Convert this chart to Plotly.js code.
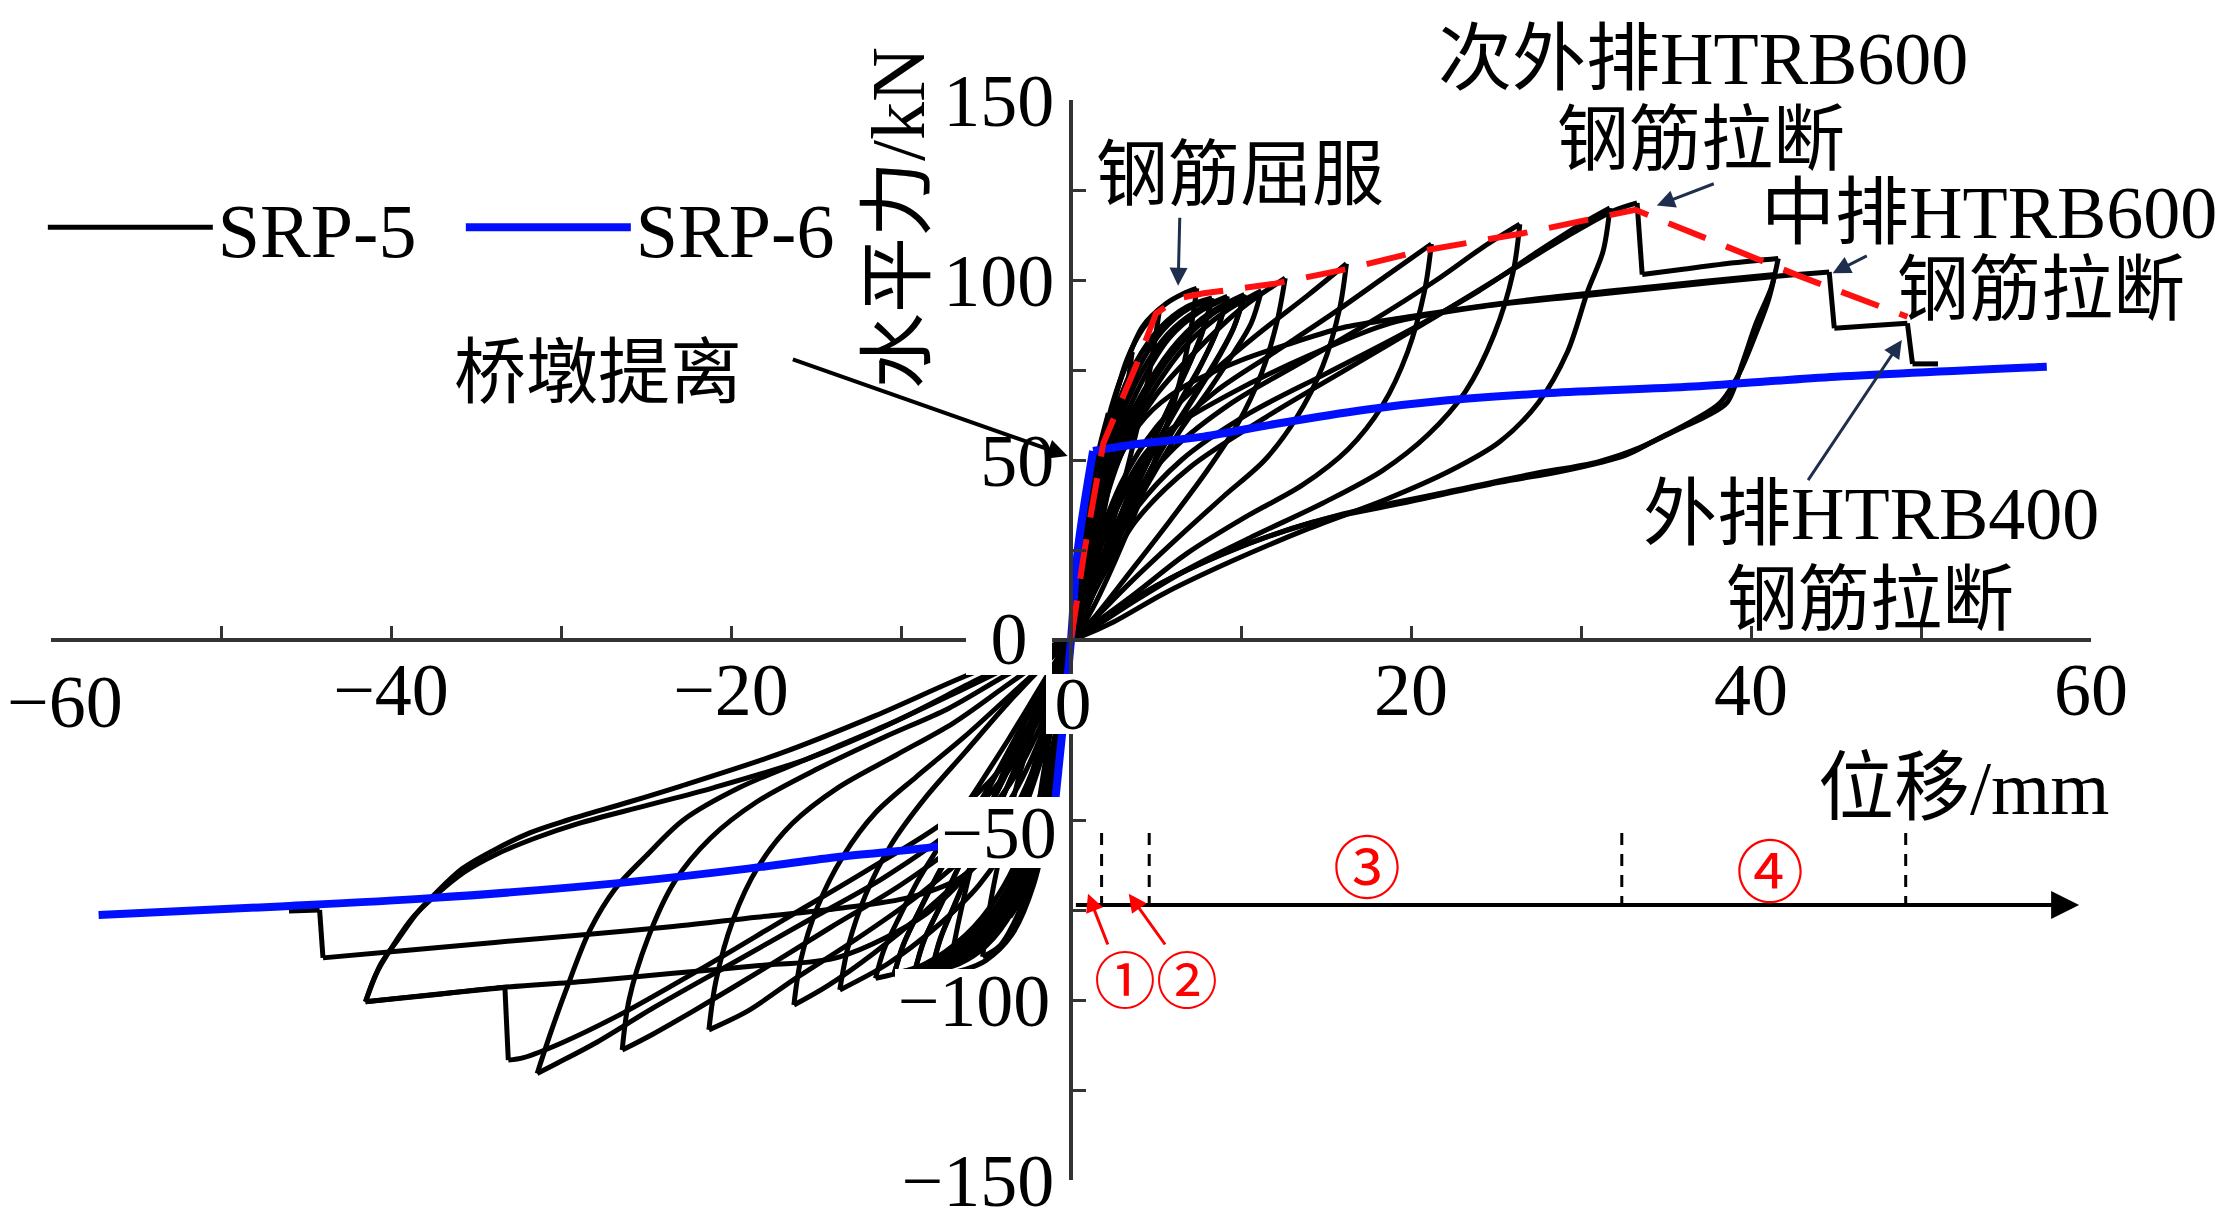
<!DOCTYPE html>
<html>
<head>
<meta charset="utf-8">
<script src="https://cdn.plot.ly/plotly-3.0.1.min.js"></script>
<style>
html,body{margin:0;padding:0;background:#fff;}
#chart{width:2226px;height:1229px;}
</style>
</head>
<body>
<div id="chart"></div>
<script>
// ---------- SRP-5 hysteresis, read cycle by cycle (displacement mm, force kN) ----------
const c01x = [0,0.3,0.6,0.4,0.15,0, -0.3,-0.6,-0.4,-0.15,0];
const c01y = [0,14,26,15,5,0, -14,-26,-15,-5,0];
const c02x = [0.4,0.8,1.2,0.9,0.5,0.2,0, -0.4,-0.8,-1.2,-0.9,-0.5,-0.2,0];
const c02y = [18,34,46,32,16,5,0, -18,-34,-44,-30,-15,-5,0];
const c03x = [0.5,1.1,1.7,2.2,1.8,1.2,0.6,0.2,0, -0.4,-0.9,-1.5,-2.2,-1.9,-1.3,-0.7,-0.2,0];
const c03y = [20,40,54,63,48,30,14,4,0, -18,-38,-52,-60,-46,-28,-13,-3,0];
const c04x = [0.5,1.2,2.0,2.8,3.6,3.1,2.3,1.4,0.6,0, -0.5,-1.1,-1.8,-2.7,-3.6,-3.3,-2.6,-1.6,-0.7,0];
const c04y = [19,40,58,71,80,64,44,24,9,0, -20,-42,-58,-70,-77,-64,-44,-24,-9,0];
const c05x = [0.5,1.3,2.3,3.3,4.3,5.2,4.6,3.7,2.6,1.5,0.6,0, -0.5,-1.2,-2.1,-3.2,-4.2,-5.2,-4.7,-3.8,-2.7,-1.5,-0.6,0];
const c05y = [18,41,62,78,87,91.5,74,55,35,17,6,0, -20,-44,-63,-77,-85,-88,-72,-52,-32,-15,-5,0];
const c06x = [0.5,1.4,2.9,4.2,5.6,6.6,7.4,7.0,6.3,5.3,4.0,2.6,1.3,0.4,0, -0.5,-1.2,-2.2,-3.5,-5,-6.2,-7.2,-6.6,-5.7,-4.5,-3.1,-1.7,-0.6,0];
const c06y = [18,45,72,87,93.5,96.2,97.7,85,70,55,38,22,9,2,0, -21,-46,-68,-82,-89,-91.5,-92.5,-78,-60,-43,-27,-13,-4,0];
const c07x = [0.4,1.3,2.5,3.8,5.3,6.8,8.3,7.7,6.9,5.8,4.6,3.4,2.2,1.1,0.4,0, -0.4,-1.1,-2.1,-3.4,-5,-6.6,-8.2,-7.7,-6.9,-5.9,-4.7,-3.5,-2.3,-1.1,-0.4,0];
const c07y = [14,40,62,77,87,92.5,95,85,76,65,53,40,26,12,3,0, -16,-40,-60,-75,-85,-90,-92,-83,-74,-63,-51,-38,-25,-12,-3,0];
const c07bx = [0.4,1.3,2.6,3.9,5.4,6.9,8.3,7.6,6.7,5.6,4.4,3.2,2.0,1.0,0.3,0, -0.4,-1.2,-2.2,-3.5,-5.1,-6.7,-8.2,-7.6,-6.7,-5.7,-4.5,-3.3,-2.1,-1.0,-0.3,0];
const c07by = [13,38,60,75,86,92,94.5,84,74,63,51,38,24,11,2,0, -15,-39,-59,-74,-84,-89.5,-91.5,-82,-72,-61,-49,-36,-23,-11,-2,0];
const c08x = [0.4,1.4,2.7,4.1,5.7,7.4,9.2,8.6,7.7,6.5,5.1,3.7,2.5,1.3,0.4,0, -0.4,-1.2,-2.3,-3.7,-5.4,-7.2,-9.2,-8.7,-7.8,-6.7,-5.4,-4,-2.6,-1.3,-0.4,0];
const c08y = [13,38,59,74,85,91.5,95.5,86,77,67,55,41,27,13,3,0, -15,-39,-59,-74,-84,-90,-92.5,-84,-75,-64,-52,-39,-25,-12,-3,0];
const c08bx = [0.4,1.4,2.8,4.2,5.8,7.5,9.2,8.5,7.5,6.3,4.9,3.5,2.3,1.2,0.4,0, -0.4,-1.3,-2.4,-3.8,-5.5,-7.3,-9.2,-8.6,-7.6,-6.5,-5.2,-3.8,-2.4,-1.2,-0.4,0];
const c08by = [12,36,57,72,84,91,95,85,75,65,53,39,25,12,3,0, -14,-38,-58,-73,-83,-89.5,-92,-83,-73,-62,-50,-37,-23,-11,-3,0];
const c09x = [0.4,1.5,2.9,4.5,6.3,8.2,10.2,9.6,8.7,7.4,5.8,4.2,2.8,1.5,0.5,0, -0.4,-1.3,-2.5,-4,-5.8,-7.9,-10.4,-9.9,-9,-7.8,-6.3,-4.7,-3.1,-1.5,-0.5,0];
const c09y = [12,36,56,71,83,91,96,87,79,69,57,43,29,15,4,0, -14,-38,-58,-73,-83,-90,-93,-85,-76,-65,-53,-40,-26,-12,-3,0];
const c09bx = [0.4,1.5,3.0,4.6,6.4,8.3,10.2,9.5,8.5,7.2,5.6,4.0,2.6,1.4,0.4,0, -0.4,-1.4,-2.6,-4.1,-5.9,-8.0,-10.4,-9.8,-8.8,-7.6,-6.1,-4.5,-2.9,-1.4,-0.4,0];
const c09by = [11,35,55,70,82,90.5,95.5,86,77,67,55,41,27,14,3,0, -13,-37,-57,-72,-82,-89.5,-92.5,-84,-74,-63,-51,-38,-24,-11,-3,0];
const c10x = [0.4,1.6,3.1,4.8,6.8,9,11.2,10.6,9.6,8.2,6.4,4.6,3.0,1.6,0.5,0, -0.4,-1.4,-2.7,-4.3,-6.2,-8.6,-11.5,-11,-10.1,-8.9,-7.3,-5.5,-3.6,-1.8,-0.5,0];
const c10y = [11,34,54,69,82,91,97,88,80,70,58,44,30,16,4,0, -13,-36,-56,-71,-82,-90,-94,-86,-77,-66,-54,-41,-27,-13,-3,0];
const c11x = [0.5,1.5,3,5,7.5,10,12.6,12.1,11.2,9.8,8,5.8,3.5,1.5,0.4,0, -0.5,-1.6,-3.2,-5.4,-8,-10.8,-13.6,-13.1,-12.1,-10.6,-8.6,-6.2,-3.8,-1.6,-0.4,0];
const c11y = [10,30,52,68,81,92,100.5,88,74,60,47,33,19,7,1.5,0, -11,-31,-52,-68,-80,-90,-97.2,-85,-71,-57,-44,-31,-18,-7,-1.5,0];
const c12x = [0.5,1.5,3,5,8,11,14,16.2,15.8,14.8,13.3,11.4,9,6.2,3.5,1.4,0.3,0, -0.5,-1.6,-3.2,-5.4,-8.5,-11.6,-14.3,-16.3,-15.9,-14.9,-13.4,-11.5,-9.1,-6.3,-3.5,-1.4,-0.3,0];
const c12y = [9,26,44,59,73,85,96,104.5,92,76,62,50,40,28,16,6,1,0, -10,-28,-46,-61,-75,-87,-96,-101.4,-89,-74,-60,-48,-38,-27,-15,-6,-1,0];
const c13x = [0.5,1.6,3.2,5.5,8.5,12,15.5,18.5,21.2,20.8,19.8,18.3,16.3,13.6,10.2,6.8,3.8,1.5,0.3,0, -0.5,-1.7,-3.4,-5.8,-9,-12.6,-16.2,-19,-21.3,-20.9,-19.9,-18.4,-16.4,-13.7,-10.3,-6.9,-3.9,-1.5,-0.3,0];
const c13y = [8,24,41,56,69,80,91,101,110,97,80,65,53,43,34,24,13,5,1,0, -9,-26,-43,-58,-71,-83,-94,-103,-108.3,-95,-78,-63,-51,-41,-32,-23,-13,-5,-1,0];
const c14x = [0.5,1.7,3.4,6,9.5,13.5,17.5,21.5,24.2,26.4,26,24.9,23.2,21,18.3,14.8,10.8,7,3.8,1.5,0.3,0, -0.5,-1.8,-3.6,-6.3,-10,-14.2,-18.3,-22.2,-24.6,-26.4,-26,-24.9,-23.3,-21.2,-18.5,-15,-11,-7.2,-3.9,-1.5,-0.3,0];
const c14y = [7,22,38,53,66,77,88,100,109,115.5,102,85,69,57,47,38,29,20,11,4,1,0, -8,-24,-40,-55,-68,-80,-92,-103,-109.5,-113.9,-100,-83,-67,-55,-45,-36,-27,-19,-10,-4,-1,0];
const c15x = [0.5,1.8,3.6,6.5,10.5,15,19.5,24,27.5,30,31.7,31.3,30.4,29.2,27.5,25.2,22.3,18.5,14,9.5,5.5,2.5,0.6,0, -0.5,-1.9,-3.8,-6.8,-11,-15.5,-20,-24.5,-28,-30.2,-31.4,-30.6,-29.7,-28.3,-26.8,-25,-22.8,-19.5,-15.5,-11,-6.5,-3,-0.7,0];
const c15y = [6,20,35,50,63,74,85,97,108,115.5,120,108,97,80,66,55,47,39,31,22,13,5,1,0, -7,-22,-37,-52,-66,-78,-90,-102,-112,-117.5,-120.4,-109,-97.2,-80.6,-69,-60,-50,-41,-33,-24,-14,-6,-1,0];
const c16x = [0.5,1.9,3.8,7,11.5,16.5,21.5,26,29.5,31.8,33.3,33.6,36,39,41.6,41.2,40.3,39.5,38.6,37.3,35.8,34.1,32.6,29,25.2,20,14.2,9,5,2,0.4,0,
              -0.5,-2,-4,-7.3,-12,-17,-22,-26.5,-30,-32.2,-33.1,-33.3,-36,-39,-41.5,-40.6,-39.6,-38.5,-37.3,-35.8,-34,-31.8,-29.6,-26,-22.9,-17.1,-11.5,-6.2,-2.5,0];
const c16y = [5,18,33,48,62,76,90,103,113,119,121.4,101.5,103,104.8,106,98,88,77,66,62,58.7,54.8,51.3,47,43.8,38.5,32.7,24,15,6,1,0,
              -6,-20,-35,-50,-64,-78,-92,-104,-112,-116,-116.7,-96.5,-97.8,-99.2,-100.5,-90,-83.3,-76,-70,-63.5,-58.5,-53.5,-50,-45,-40.5,-31.5,-21,-10,-3.5,0];
const c17x = [0.4,1,2,3,4.4,6.5,9.9,13,16.2,19.5,22.5,27,32.3,37,41.4,41,40.2,39.3,38.2,36.6,35,33.5,31,27,22,16,10,5,2,0.4,0,
              -0.4,-1.1,-2.2,-3.6,-5.5,-8.5,-13.6,-18.5,-23.4,-28.5,-33.9,-38,-41.5,-40.9,-39.9,-38.7,-37.4,-35.7,-33.8,-31.5,-29,-25,-21,-15.5,-10.5,-5.5,-2,0];
const c17y = [8,24,40,52,62,70,77.5,82.5,87,89.5,91.7,94.5,97.2,99.5,101.5,94,84,74,66,61,57,53.5,49.5,46,41,35,26,15,6,1,0,
              -6,-20,-36,-50,-62,-76,-88,-90.5,-92.6,-94.8,-96.7,-98.8,-100.5,-93,-85,-77,-71,-64.5,-59.5,-55,-51,-46,-41,-33,-23,-11,-3,0];
const c18x = [0.4,1,2,3,4.4,6,9.6,14,18.8,24,29.9,35,41.4,44.6,44.9,47,49.2,49.5,51];
const c18y = [5,16,30,41,52,59,69,79,88,92.5,95.5,98,101,102.2,86.6,87.3,88,76.7,76.7];
const c18nx = [0,-0.4,-1.1,-2.3,-4,-6.5,-9.5,-13.6,-18.5,-23.4,-28.5,-33.9,-39,-44,-44.2,-46];
const c18ny = [0,-7,-22,-40,-55,-66,-71.5,-74.5,-77,-79.6,-81.8,-84,-86.2,-88.3,-75,-75.3];

// ---------- SRP-6 ----------
const srp6X = [-57.2,-46.5,-37.7,-26.8,-19,-13.6,-7.9,-4,-1.0,-0.5,0,0.4,1.3,4,7.8,12,17.2,22,28.2,36.6,45,57.4];
const srp6Y = [-76.4,-74,-71.7,-67.6,-63.5,-60.2,-57.4,-54,-48,-25,0,25,52.5,54.5,56.5,60,63.9,66.5,68.6,70.4,73.1,75.9];

// ---------- SRP-5 skeleton (red dashed) ----------
const skelX = [0,0.8,1.9,3.8,5.0,6.3,7.8,12,16.2,20.4,26.6,31.7,33.2,42.9,49.2];
const skelY = [0,25,54.6,75.9,90.7,94.9,96.3,99,103,107.9,113,118,119.5,101,89.8];

// ---------- axis ticks (labels near the origin sit on white patches, drawn separately) ----------
const xTickVals = [-60, -40, -20, 0, 20, 40, 60];
const xTickText = ['', '−40', '−20', '', '20', '40', '60'];
const yTickVals = [-150, -100, -50, 0, 50, 100, 150];
const yTickText = ['−150', '', '', '', '50', '100', '150'];

// ---------- stage boundaries (mm) and stage axis level (kN) ----------
const stageBounds = [1.8, 4.6, 32.4, 49.1];
const stageTop = -53.6;
const stageAxisY = -73.6;
const stageAxisEnd = 59.3;

const srp5X = [0].concat(c01x,c02x,c03x,c04x,c05x,c06x,c07x,c07bx,c08x,c08bx,c09x,c09bx,c10x,c11x,c12x,c13x,c14x,c15x,c16x,c17x,c18x,[null],c18nx);
const srp5Y = [0].concat(c01y,c02y,c03y,c04y,c05y,c06y,c07y,c07by,c08y,c08by,c09y,c09by,c10y,c11y,c12y,c13y,c14y,c15y,c16y,c17y,c18y,[null],c18ny);

// split a recorded path into smooth branches at load reversals / sharp corners
const PX_PER_MM = 17, PX_PER_KN = 3.6;
function branches(xs, ys) {
  const out = [];
  let cur = {x: [], y: []};
  for (let i = 0; i < xs.length; i++) {
    if (xs[i] === null) { if (cur.x.length > 1) out.push(cur); cur = {x: [], y: []}; continue; }
    cur.x.push(xs[i]); cur.y.push(ys[i]);
    const n = cur.x.length;
    if (n >= 2 && i + 1 < xs.length && xs[i + 1] !== null) {
      const ux = (cur.x[n - 1] - cur.x[n - 2]) * PX_PER_MM, uy = (cur.y[n - 1] - cur.y[n - 2]) * PX_PER_KN;
      const vx = (xs[i + 1] - xs[i]) * PX_PER_MM, vy = (ys[i + 1] - ys[i]) * PX_PER_KN;
      const c = (ux * vx + uy * vy) / (Math.hypot(ux, uy) * Math.hypot(vx, vy) || 1);
      if (c < 0.6) { out.push(cur); cur = {x: [xs[i]], y: [ys[i]]}; }
    }
  }
  if (cur.x.length > 1) out.push(cur);
  return out;
}

function seriesTraces(xs, ys, name, line, showLegend) {
  return branches(xs, ys).map(function (b, k) {
    return {x: b.x, y: b.y, mode: 'lines', name: name, legendgroup: name,
      showlegend: showLegend && k === 0,
      line: Object.assign({shape: 'spline', smoothing: 0.9}, line)};
  });
}

const serif = 'Liberation Serif, Times New Roman, serif';
const mixed = 'Liberation Serif, Noto Sans CJK SC, serif';
const cjk = 'Noto Sans CJK SC, sans-serif';

const traces = [].concat(
  seriesTraces(srp5X, srp5Y, 'SRP-5', {color: '#000000', width: 5}, true),
  seriesTraces(srp6X, srp6Y, 'SRP-6', {color: '#0010ff', width: 8}, true),
  seriesTraces(skelX, skelY, '骨架曲线', {color: '#ff1010', width: 6, dash: '40px,22px', shape: 'linear'}, false)
);

const navy = '#1d2f4c';
function arrow(x, y, ax, ay, color, width, size) {
  return {x: x, y: y, ax: ax, ay: ay, xref: 'x', yref: 'y', axref: 'x', ayref: 'y',
    text: '', showarrow: true, arrowhead: 2, arrowsize: size, arrowwidth: width,
    arrowcolor: color, standoff: 0, startstandoff: 0};
}
function label(text, xp, yp, size, color, family, angle) {
  return {x: xp, y: yp, xref: 'paper', yref: 'paper', text: text, showarrow: false,
    xanchor: 'center', yanchor: 'middle', textangle: angle || 0,
    font: {size: size, color: color || '#000', family: family || mixed}};
}
function boxedTick(text, xp, yp, w, h) {
  return {x: xp, y: yp, xref: 'paper', yref: 'paper', text: text, showarrow: false,
    xanchor: 'center', yanchor: 'middle', width: w, height: h, align: 'center', valign: 'middle',
    bgcolor: '#ffffff', borderpad: 0, borderwidth: 0,
    font: {size: 74, color: '#000', family: serif}};
}

const annotations = [
  label('−60', 0.0071, 0.4426, 74, '#000', serif),
  boxedTick('0', 0.5010, 0.4407, 54, 60),
  boxedTick('0', 0.4696, 0.5009, 86, 72),
  boxedTick('−50', 0.4647, 0.3222, 122, 71),
  boxedTick('−100', 0.4525, 0.1657, 158, 64),
  label('钢筋屈服', 0.5828, 0.9306, 72),
  arrow(6.3, 98.4, 6.4, 117.7, navy, 3, 1.2),
  label('次外排HTRB600', 0.8098, 1.038, 74),
  label('钢筋拉断', 0.8088, 0.963, 72),
  arrow(34.46, 120.7, 37.9, 126.9, navy, 3, 1.2),
  label('中排HTRB600', 0.95, 0.8954, 74),
  label('钢筋拉断', 0.9755, 0.8241, 72),
  arrow(44.8, 101.9, 46.9, 106.9, navy, 3, 1.2),
  label('外排HTRB400', 0.8922, 0.6167, 74),
  label('钢筋拉断', 0.8917, 0.537, 72),
  arrow(48.87, 83.3, 43.3, 44.0, navy, 3, 1.2),
  label('桥墩提离', 0.2681, 0.7472, 72),
  arrow(-0.2, 51.1, -16.45, 78.1, '#000', 4, 1),
  label('水平力/kN', 0.4152, 0.8907, 76, '#000', mixed, -90),
  label('位移/mm', 0.9373, 0.363, 76),
  arrow(stageAxisEnd, stageAxisY, 0.2, stageAxisY, '#000', 4, 1.4),
  label('③', 0.6451, 0.2926, 68, '#ff0000', cjk),
  label('④', 0.8426, 0.2889, 68, '#ff0000', cjk),
  label('①②', 0.5415, 0.188, 62, '#ff0000', cjk),
  arrow(1.0, -70.5, 2.2, -85, '#ff0000', 3, 1.2),
  arrow(3.4, -70.5, 5.6, -85, '#ff0000', 3, 1.2)
];

const shapes = stageBounds.map(function (b) {
  return {type: 'line', xref: 'x', yref: 'y', x0: b, x1: b, y0: stageTop, y1: stageAxisY,
    line: {color: '#000', width: 3, dash: '12px,9px'}};
});

const axisCommon = {
  anchor: 'free', position: 0.5, showline: true, linecolor: '#333', linewidth: 4,
  ticks: 'inside', ticklen: 12, tickwidth: 3, tickcolor: '#333',
  showgrid: false, zeroline: false, fixedrange: true, tickmode: 'array',
  tickfont: {family: serif, size: 74, color: '#000'}
};

const layout = {
  width: 2226, height: 1229,
  margin: {l: 51, r: 135, t: 100, b: 49},
  paper_bgcolor: '#fff', plot_bgcolor: 'rgba(0,0,0,0)',
  font: {family: serif, size: 74, color: '#000'},
  xaxis: Object.assign({}, axisCommon, {range: [-60, 60],
    tickvals: xTickVals, ticktext: xTickText, ticklabelstandoff: -16,
    minor: {dtick: 10, tick0: 0, ticks: 'inside', ticklen: 12, tickwidth: 3, tickcolor: '#333'}}),
  yaxis: Object.assign({}, axisCommon, {range: [-150, 150],
    tickvals: yTickVals, ticktext: yTickText,
    minor: {dtick: 25, tick0: 0, ticks: 'inside', ticklen: 13, tickwidth: 3, tickcolor: '#333'}}),
  showlegend: true,
  legend: {orientation: 'h', x: -0.004, xanchor: 'left', y: 0.882, yanchor: 'middle',
    font: {family: serif, size: 76, color: '#000'}, itemwidth: 165,
    entrywidth: 238, entrywidthmode: 'pixels',
    bgcolor: 'rgba(0,0,0,0)', borderwidth: 0},
  annotations: annotations,
  shapes: shapes
};

Plotly.newPlot('chart', traces, layout, {displayModeBar: false, staticPlot: true});
</script>
</body>
</html>
